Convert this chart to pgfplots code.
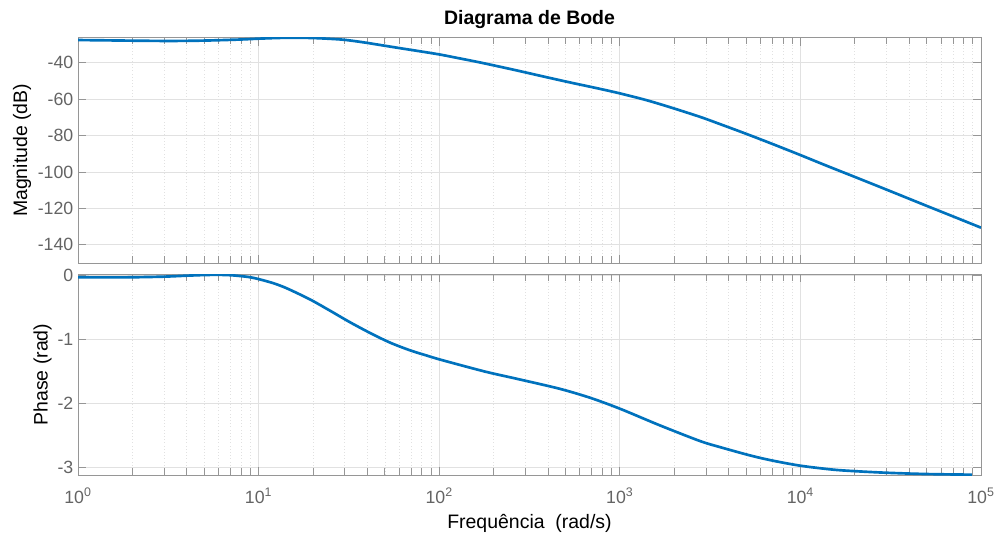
\documentclass[border=0pt]{standalone}
\usepackage{pgfplots}
\pgfplotsset{compat=1.18}
\usepackage{fontspec}
\setmainfont{Liberation Sans}
\definecolor{mblue}{RGB}{0,114,189}
\definecolor{axgray}{RGB}{150,150,150}
\definecolor{tickgray}{RGB}{100,100,100}
\definecolor{gridgray}{RGB}{225,225,225}
\pgfkeys{/pgf/number format/assume math mode=true}

\pgfplotstableread{
f mag
1 -27.5
1.5 -27.7
2 -27.85
3 -28.0
4 -27.95
5 -27.8
6 -27.6
8 -27.2
10 -26.75
13 -26.35
16 -26.25
20 -26.4
25 -26.85
30 -27.4
38 -28.75
49 -30.5
60 -31.9
75 -33.4
100 -35.4
130 -37.6
168 -39.8
220 -42.3
280 -44.6
380 -47.6
530 -50.8
750 -54.0
1000 -56.8
1400 -60.5
1896 -64.4
2780 -69.7
3590 -73.7
5000 -79.0
7000 -84.6
10000 -90.7
14000 -96.6
20000 -102.7
30000 -109.7
50000 -118.6
70000 -124.4
100000 -130.6
}\magtable

\pgfplotstableread{
f ph
1 -0.03
1.5 -0.032
2 -0.03
3 -0.02
4 -0.005
5 0.005
6 0.008
7 0.002
8 -0.012
9 -0.03
10 -0.058
12 -0.12
14 -0.19
17 -0.30
20 -0.40
25 -0.555
32 -0.73
41.5 -0.90
53.5 -1.05
69 -1.17
85 -1.25
100 -1.31
148 -1.44
191 -1.52
280 -1.625
465 -1.77
685 -1.91
1000 -2.08
1665 -2.34
2780 -2.585
3590 -2.68
5270 -2.81
7000 -2.89
10000 -2.97
15000 -3.03
20000 -3.055
30000 -3.08
50000 -3.10
89000 -3.11
}\phtable

\pgfplotsset{
  every axis/.append style={
    scale only axis, width=677.25pt, anchor=south west,
    xmin=1, xmax=1e5,
    axis line style={axgray, line width=0.6pt},
    tick style={axgray, line width=0.6pt},
    tick align=inside, xtick pos=both, ytick pos=both,
    major tick length=6pt, minor tick length=5pt,
    xmajorgrids=true, ymajorgrids=true, xminorgrids=true, yminorgrids=false,
    major grid style={gridgray, line width=0.5pt},
    minor grid style={gridgray, dotted, line width=0.5pt},
    xtick={1,10,100,1000,10000,100000},
    minor xtick={2,3,4,5,6,7,8,9,20,30,40,50,60,70,80,90,200,300,400,500,600,700,800,900,2000,3000,4000,5000,6000,7000,8000,9000,20000,30000,40000,50000,60000,70000,80000,90000},
    ticklabel style={font=\fontsize{13.3}{16}\selectfont, text=tickgray},
    label style={font=\fontsize{14.6}{17}\selectfont},
  },
}

\begin{document}
\begin{tikzpicture}
\path[use as bounding box] (0,0) rectangle (747.75pt,399.75pt);
\begin{semilogxaxis}[at={(58.5pt,202.5pt)}, height=169pt,
  ymin=-150, ymax=-26.2, ytick={-140,-120,-100,-80,-60,-40},
  xticklabels={},
  title={Diagrama de Bode},
  title style={font=\bfseries\fontsize{14.6}{17}\selectfont, at={(axis description cs:0.5,1)}, anchor=base, yshift=3.8pt},
  ylabel={Magnitude (dB)},
  ylabel style={at={(axis description cs:-0.062,0.5)}, anchor=center},
]
\addplot[color=mblue, line width=2pt, smooth] table[x=f, y=mag] {\magtable};
\end{semilogxaxis}
\begin{semilogxaxis}[at={(58.5pt,43.5pt)}, height=150.5pt,
  ymin=-3.115, ymax=0.016, ytick={-3,-2,-1,0},
  xticklabels={10\textsuperscript{0},10\textsuperscript{1},10\textsuperscript{2},10\textsuperscript{3},10\textsuperscript{4},10\textsuperscript{5}},
  xticklabel style={anchor=base, yshift=-21.4pt},
  xlabel={Frequência~~(rad/s)},
  xlabel style={at={(axis description cs:0.5,0)}, anchor=base, yshift=-39.75pt},
  ylabel={Phase (rad)},
  ylabel style={at={(axis description cs:-0.0393,0.5)}, anchor=center},
]
\addplot[color=mblue, line width=2pt, smooth] table[x=f, y=ph] {\phtable};
\end{semilogxaxis}
\end{tikzpicture}
\end{document}
